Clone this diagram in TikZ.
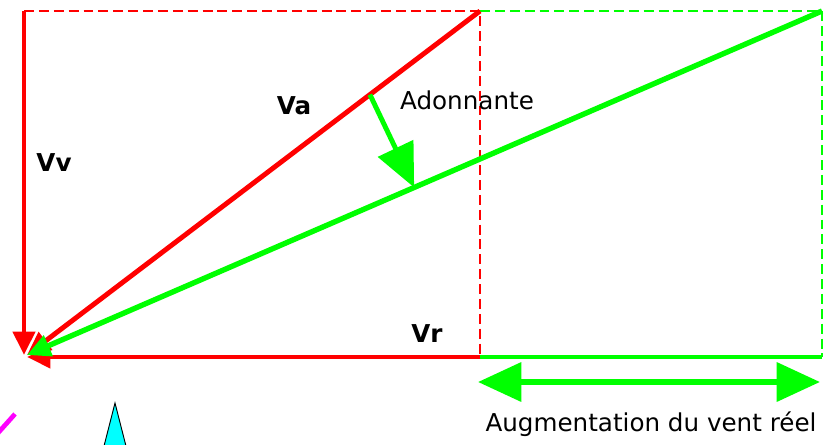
\documentclass[tikz,border=0pt]{standalone}
\usepackage{fontspec}
\setmainfont{DejaVu Sans}
\usepackage{tikz}
\usetikzlibrary{arrows.meta,positioning,calc}
\definecolor{vecred}{RGB}{255,0,0}
\definecolor{vecgreen}{RGB}{0,255,0}
\definecolor{markcyan}{RGB}{0,255,255}
\definecolor{markpink}{RGB}{255,0,255}

\begin{document}
\begin{tikzpicture}[x=0.03cm,y=-0.03cm,
    vecline/.style={line width=4.2pt,-{Triangle[length=0.7cm,width=0.65cm]}},
    guide/.style={line width=1.8pt,dash pattern=on 8.5pt off 4.2pt},
    bigtip/.style={line width=5pt,-{Triangle[length=1.3cm,width=1.15cm]}},
    vlabel/.style={font=\fontsize{21}{24}\selectfont\bfseries},
    plain/.style={font=\fontsize{21}{24}\selectfont}]
    \useasboundingbox (0,0) rectangle (833,445);

    % Corners
    \coordinate (tl) at (24,11);
    \coordinate (tm) at (480,11);
    \coordinate (tr) at (822,11);
    \coordinate (bm) at (480,357);
    \coordinate (br) at (822,357);
    \coordinate (origin) at (27,355);
    \coordinate (vvend) at (24,355);
    \coordinate (vrend) at (27,357);

    % Dashed sides
    \draw[guide,vecred] (tl) -- (tm) -- (bm);
    \draw[guide,vecgreen] (tm) -- (tr) -- (br);
    \draw[line width=4.2pt,vecgreen] (bm) -- (br);

    % Red vectors
    \draw[vecline,vecred] (tl) -- (vvend);
    \draw[vecline,vecred] (bm) -- (vrend);
    \draw[vecline,vecred] (tm) -- (origin);

    % Green vector
    \draw[vecline,vecgreen,line width=4.6pt] (tr) -- (origin);

    % Adonnante
    \coordinate (adfrom) at ($(tm)!0.243!(origin)$);
    \coordinate (adto) at ($(tr)!0.513!(origin)$);
    \draw[bigtip,vecgreen,line width=4.2pt] (adfrom) -- (adto);

    % Increase of true wind
    \coordinate (incl) at (478,382);
    \coordinate (incr) at (820,382);
    \draw[bigtip,vecgreen,{Triangle[length=1.3cm,width=1.15cm]}-{Triangle[length=1.3cm,width=1.15cm]}] (incl) -- (incr);

    % Labels
    \node[vlabel] (vv) at (54,163) {Vv};
    \node[vlabel] (va) at (294,106) {Va};
    \node[vlabel] (vr) at (427,334) {Vr};
    \node[plain] (adonnante) at (467,100) {Adonnante};
    \node[plain] (augment) at (651,424) {Augmentation du vent réel};

    % Cut-off marks at the bottom
    \draw[markpink,line width=4pt] (-2,433) -- (15,414);
    \filldraw[fill=markcyan,draw=black,line width=0.8pt] (115,403) -- (127,450) -- (103,450) -- cycle;
\end{tikzpicture}
\end{document}
